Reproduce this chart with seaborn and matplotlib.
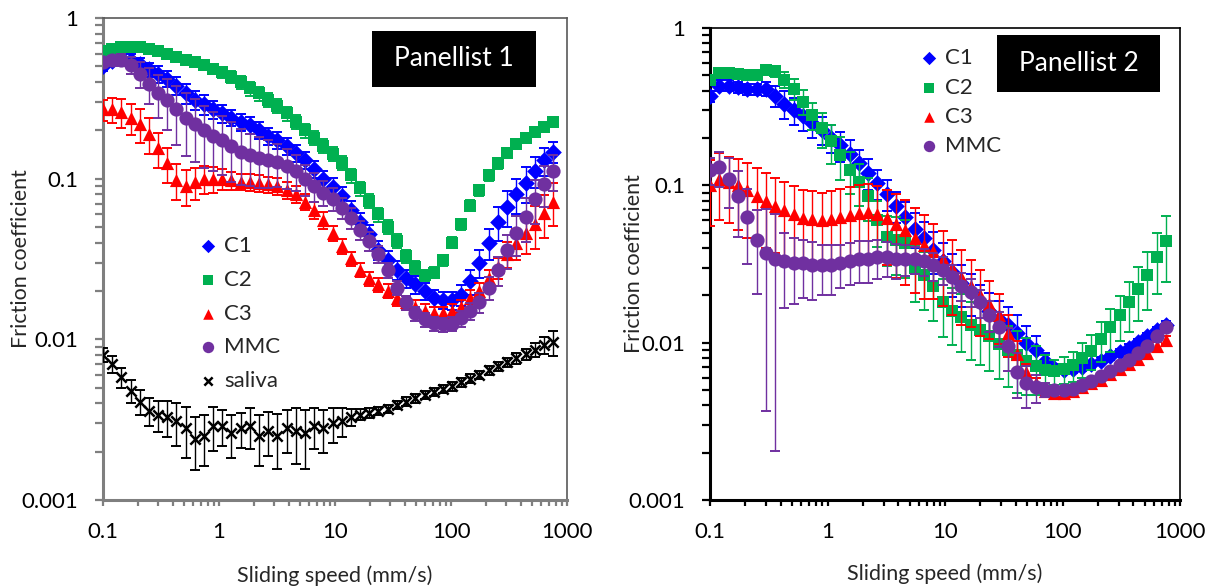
import numpy as np
import pandas as pd
import matplotlib
matplotlib.use('Agg')
import matplotlib.pyplot as plt
import seaborn as sns
from matplotlib.ticker import LogLocator, FuncFormatter, NullFormatter
from matplotlib.patches import Rectangle

# sliding speed (mm/s), shared by every series
speed = [0.10, 0.12, 0.144, 0.173, 0.207, 0.249, 0.299, 0.358, 0.43, 0.516,
         0.619, 0.743, 0.892, 1.07, 1.28, 1.54, 1.85, 2.22, 2.66, 3.19,
         3.83, 4.6, 5.52, 6.62, 7.95, 9.54, 11.4, 13.7, 16.5, 19.8,
         23.7, 28.5, 34.2, 41.0, 49.2, 59.1, 70.9, 85.1, 102, 122,
         147, 176, 212, 254, 305, 366, 439, 527, 632, 759]

# ---- Panellist 1: friction coefficient ----
p1_c1 = [0.50, 0.54, 0.56, 0.55, 0.52, 0.48, 0.45, 0.42, 0.38, 0.34,
         0.31, 0.29, 0.27, 0.255, 0.24, 0.225, 0.215, 0.20, 0.185, 0.175,
         0.16, 0.145, 0.13, 0.115, 0.10, 0.089, 0.078, 0.064, 0.054, 0.045,
         0.036, 0.031, 0.027, 0.024, 0.022, 0.020, 0.018, 0.0175, 0.0175, 0.019,
         0.023, 0.030, 0.040, 0.054, 0.067, 0.080, 0.094, 0.112, 0.130, 0.147]
p1_c2 = [0.62, 0.64, 0.66, 0.66, 0.66, 0.64, 0.62, 0.60, 0.57, 0.55,
         0.53, 0.51, 0.48, 0.46, 0.43, 0.40, 0.365, 0.34, 0.31, 0.285,
         0.255, 0.225, 0.20, 0.18, 0.16, 0.143, 0.125, 0.105, 0.087, 0.073,
         0.060, 0.050, 0.041, 0.033, 0.028, 0.025, 0.026, 0.031, 0.040, 0.052,
         0.068, 0.085, 0.105, 0.125, 0.145, 0.165, 0.180, 0.196, 0.210, 0.225]
p1_c3 = [0.27, 0.27, 0.26, 0.24, 0.22, 0.19, 0.155, 0.125, 0.098, 0.090,
         0.095, 0.10, 0.10, 0.10, 0.098, 0.096, 0.095, 0.094, 0.092, 0.090,
         0.085, 0.080, 0.072, 0.064, 0.055, 0.046, 0.038, 0.032, 0.027, 0.024,
         0.022, 0.020, 0.018, 0.017, 0.016, 0.015, 0.0145, 0.0145, 0.015, 0.016,
         0.018, 0.020, 0.024, 0.028, 0.034, 0.040, 0.046, 0.052, 0.061, 0.072]
p1_mmc = [0.53, 0.55, 0.55, 0.51, 0.45, 0.39, 0.34, 0.31, 0.27, 0.24,
          0.22, 0.20, 0.185, 0.175, 0.16, 0.147, 0.14, 0.135, 0.13, 0.127,
          0.12, 0.112, 0.10, 0.09, 0.082, 0.075, 0.066, 0.057, 0.048, 0.041,
          0.034, 0.027, 0.021, 0.017, 0.0145, 0.0133, 0.0126, 0.0124, 0.0125, 0.0135,
          0.015, 0.017, 0.021, 0.027, 0.036, 0.046, 0.058, 0.075, 0.093, 0.112]
p1_saliva = [0.0080, 0.0070, 0.0058, 0.0048, 0.0041, 0.0036, 0.0034, 0.0033, 0.0031, 0.0028,
             0.0024, 0.0025, 0.0029, 0.0029, 0.0026, 0.0028, 0.0029, 0.0025, 0.0027, 0.0025,
             0.0028, 0.0027, 0.0026, 0.0029, 0.0028, 0.0030, 0.0031, 0.0033, 0.0034, 0.0035,
             0.0036, 0.0037, 0.0039, 0.0041, 0.0043, 0.0045, 0.0047, 0.0049, 0.0051, 0.0054,
             0.0057, 0.0060, 0.0064, 0.0068, 0.0072, 0.0076, 0.0081, 0.0086, 0.0092, 0.0096]

# relative error bars (std / mean)
p1_c1_err = [0.06, 0.06, 0.07, 0.08, 0.09, 0.10, 0.12, 0.12, 0.13, 0.14,
             0.14, 0.14, 0.13, 0.13, 0.12, 0.12, 0.12, 0.12, 0.12, 0.12,
             0.12, 0.12, 0.12, 0.12, 0.12, 0.13, 0.13, 0.13, 0.14, 0.14,
             0.14, 0.14, 0.13, 0.13, 0.13, 0.12, 0.12, 0.12, 0.13, 0.15,
             0.18, 0.20, 0.22, 0.24, 0.25, 0.25, 0.25, 0.22, 0.20, 0.15]
p1_c2_err = [0.04, 0.04, 0.04, 0.04, 0.05, 0.05, 0.05, 0.05, 0.06, 0.06,
             0.06, 0.06, 0.07, 0.08, 0.09, 0.09, 0.10, 0.10, 0.10, 0.10,
             0.10, 0.10, 0.10, 0.10, 0.10, 0.10, 0.10, 0.10, 0.10, 0.10,
             0.10, 0.10, 0.10, 0.09, 0.09, 0.08, 0.08, 0.08, 0.08, 0.08,
             0.08, 0.08, 0.08, 0.08, 0.07, 0.07, 0.06, 0.06, 0.05, 0.05]
p1_c3_err = [0.15, 0.18, 0.20, 0.22, 0.24, 0.25, 0.25, 0.25, 0.25, 0.25,
             0.22, 0.20, 0.18, 0.15, 0.13, 0.12, 0.12, 0.12, 0.12, 0.12,
             0.12, 0.12, 0.12, 0.12, 0.12, 0.11, 0.11, 0.10, 0.10, 0.10,
             0.10, 0.10, 0.10, 0.10, 0.10, 0.10, 0.10, 0.10, 0.10, 0.10,
             0.12, 0.12, 0.13, 0.15, 0.18, 0.22, 0.26, 0.30, 0.30, 0.30]
p1_mmc_err = [0.05, 0.06, 0.08, 0.12, 0.18, 0.25, 0.30, 0.35, 0.40, 0.42,
              0.42, 0.42, 0.40, 0.40, 0.40, 0.38, 0.36, 0.35, 0.33, 0.30,
              0.28, 0.25, 0.22, 0.20, 0.18, 0.16, 0.15, 0.15, 0.14, 0.13,
              0.12, 0.11, 0.10, 0.10, 0.10, 0.10, 0.10, 0.10, 0.10, 0.11,
              0.12, 0.14, 0.16, 0.20, 0.24, 0.28, 0.30, 0.30, 0.28, 0.25]
p1_saliva_err = [0.10, 0.12, 0.14, 0.16, 0.18, 0.20, 0.22, 0.25, 0.30, 0.35,
                 0.36, 0.35, 0.30, 0.25, 0.30, 0.25, 0.28, 0.35, 0.30, 0.38,
                 0.30, 0.38, 0.40, 0.28, 0.30, 0.25, 0.20, 0.12, 0.08, 0.07,
                 0.06, 0.06, 0.06, 0.06, 0.06, 0.06, 0.06, 0.06, 0.06, 0.06,
                 0.06, 0.06, 0.06, 0.07, 0.07, 0.08, 0.08, 0.10, 0.12, 0.18]

# ---- Panellist 2: friction coefficient ----
p2_c1 = [0.37, 0.43, 0.43, 0.42, 0.41, 0.41, 0.41, 0.37, 0.33, 0.30,
         0.275, 0.25, 0.225, 0.20, 0.18, 0.158, 0.138, 0.12, 0.103, 0.088,
         0.074, 0.063, 0.053, 0.046, 0.039, 0.033, 0.028, 0.024, 0.021, 0.018,
         0.016, 0.0142, 0.013, 0.0115, 0.010, 0.009, 0.0077, 0.0069, 0.0067, 0.0068,
         0.0070, 0.0073, 0.0077, 0.0082, 0.0087, 0.0093, 0.0101, 0.011, 0.012, 0.013]
p2_c2 = [0.47, 0.52, 0.52, 0.51, 0.50, 0.50, 0.54, 0.53, 0.47, 0.41,
         0.34, 0.28, 0.23, 0.19, 0.155, 0.125, 0.105, 0.085, 0.060, 0.047,
         0.045, 0.043, 0.030, 0.027, 0.023, 0.018, 0.016, 0.0145, 0.013, 0.012,
         0.011, 0.0098, 0.009, 0.0083, 0.0077, 0.0071, 0.0067, 0.0066, 0.0068, 0.0072,
         0.0080, 0.0089, 0.0105, 0.0125, 0.015, 0.018, 0.022, 0.027, 0.035, 0.044]
p2_c3 = [0.10, 0.11, 0.105, 0.10, 0.093, 0.086, 0.080, 0.074, 0.070, 0.066,
         0.062, 0.061, 0.060, 0.061, 0.063, 0.065, 0.067, 0.068, 0.066, 0.062,
         0.057, 0.052, 0.046, 0.042, 0.038, 0.034, 0.030, 0.026, 0.023, 0.020,
         0.0175, 0.015, 0.0115, 0.0085, 0.0065, 0.0055, 0.0049, 0.0048, 0.0048, 0.0049,
         0.0052, 0.0055, 0.0058, 0.0063, 0.0068, 0.0073, 0.0079, 0.0086, 0.0095, 0.0104]
p2_mmc = [0.125, 0.13, 0.11, 0.085, 0.063, 0.045, 0.037, 0.034, 0.033, 0.032,
          0.032, 0.031, 0.031, 0.031, 0.032, 0.033, 0.034, 0.034, 0.035, 0.035,
          0.034, 0.034, 0.034, 0.033, 0.031, 0.029, 0.026, 0.023, 0.021, 0.018,
          0.015, 0.0125, 0.0095, 0.0065, 0.0055, 0.0052, 0.0050, 0.0050, 0.0050, 0.0051,
          0.0054, 0.0057, 0.0061, 0.0066, 0.0072, 0.0078, 0.0086, 0.0095, 0.011, 0.0125]

p2_c1_err = [0.08, 0.08, 0.08, 0.08, 0.08, 0.08, 0.10, 0.15, 0.20, 0.20,
             0.20, 0.20, 0.20, 0.20, 0.22, 0.22, 0.22, 0.22, 0.22, 0.22,
             0.22, 0.25, 0.25, 0.28, 0.30, 0.30, 0.30, 0.30, 0.30, 0.30,
             0.30, 0.30, 0.30, 0.30, 0.28, 0.22, 0.12, 0.06, 0.05, 0.05,
             0.05, 0.05, 0.05, 0.05, 0.05, 0.05, 0.05, 0.05, 0.05, 0.05]
p2_c2_err = [0.06, 0.06, 0.06, 0.06, 0.06, 0.06, 0.06, 0.08, 0.12, 0.15,
             0.18, 0.20, 0.25, 0.28, 0.30, 0.30, 0.30, 0.30, 0.32, 0.35,
             0.40, 0.40, 0.40, 0.40, 0.40, 0.40, 0.40, 0.40, 0.40, 0.40,
             0.40, 0.40, 0.42, 0.42, 0.40, 0.35, 0.25, 0.18, 0.20, 0.22,
             0.25, 0.25, 0.28, 0.30, 0.32, 0.35, 0.38, 0.40, 0.42, 0.45]
p2_c3_err = [0.45, 0.45, 0.45, 0.48, 0.50, 0.50, 0.50, 0.50, 0.50, 0.50,
             0.50, 0.50, 0.50, 0.50, 0.50, 0.50, 0.50, 0.50, 0.50, 0.50,
             0.55, 0.55, 0.55, 0.55, 0.50, 0.50, 0.50, 0.50, 0.45, 0.45,
             0.40, 0.35, 0.30, 0.20, 0.12, 0.08, 0.06, 0.06, 0.06, 0.06,
             0.06, 0.06, 0.06, 0.06, 0.06, 0.06, 0.06, 0.06, 0.06, 0.06]
p2_mmc_err = [0.20, 0.25, 0.35, 0.45, 0.50, 0.55, 0.90, 0.94, 0.50, 0.45,
              0.40, 0.40, 0.35, 0.35, 0.30, 0.30, 0.30, 0.30, 0.28, 0.25,
              0.25, 0.22, 0.20, 0.20, 0.20, 0.20, 0.20, 0.20, 0.20, 0.20,
              0.22, 0.25, 0.30, 0.32, 0.30, 0.20, 0.10, 0.06, 0.05, 0.05,
              0.05, 0.05, 0.05, 0.05, 0.05, 0.05, 0.05, 0.05, 0.05, 0.05]

rows = []
series = [
    ('Panellist 1', 'C1', p1_c1, p1_c1_err),
    ('Panellist 1', 'C2', p1_c2, p1_c2_err),
    ('Panellist 1', 'C3', p1_c3, p1_c3_err),
    ('Panellist 1', 'MMC', p1_mmc, p1_mmc_err),
    ('Panellist 1', 'saliva', p1_saliva, p1_saliva_err),
    ('Panellist 2', 'C1', p2_c1, p2_c1_err),
    ('Panellist 2', 'C2', p2_c2, p2_c2_err),
    ('Panellist 2', 'C3', p2_c3, p2_c3_err),
    ('Panellist 2', 'MMC', p2_mmc, p2_mmc_err),
]
for panel, sample, mu, rel in series:
    for s, m, r in zip(speed, mu, rel):
        rows.append({'panel': panel, 'sample': sample, 'speed': s,
                     'friction': m, 'err': m * r})
df = pd.DataFrame(rows)

sns.set_style('ticks')
plt.rcParams['font.family'] = ['Lato', 'DejaVu Sans']

colors = {'C1': '#0000FF', 'C2': '#00B050', 'C3': '#FF0000',
          'MMC': '#7030A0', 'saliva': '#000000'}
markers = {'C1': 'D', 'C2': 's', 'C3': '^', 'MMC': 'o', 'saliva': 'x'}
sizes = {'C1': 72, 'C2': 72, 'C3': 90, 'MMC': 105, 'saliva': 55}

fig = plt.figure(figsize=(12.09, 5.88), dpi=100)
ax1 = fig.add_axes([0.0852, 0.1497, 0.3838, 0.8197])
ax2 = fig.add_axes([0.5873, 0.1497, 0.3888, 0.8027])

setup = {
    'Panellist 1': dict(ax=ax1, spine='#7F7F7F', frame='#595959',
                        box=(0.580, 0.857, 0.353, 0.116),
                        leg=(0.165, 0.58), lspace=0.62, ylab=-0.155),
    'Panellist 2': dict(ax=ax2, spine='#000000', frame='#000000',
                        box=(0.611, 0.864, 0.346, 0.121),
                        leg=(0.405, 0.99), lspace=0.42, ylab=-0.14),
}

for panel, cfg in setup.items():
    ax = cfg['ax']
    sub = df[df['panel'] == panel]
    for i, (sample, grp) in enumerate(sub.groupby('sample', sort=False)):
        ax.errorbar(grp['speed'], grp['friction'], yerr=grp['err'], fmt='none',
                    ecolor=colors[sample], elinewidth=1.0, capsize=3.6,
                    capthick=1.4, zorder=2 + 2 * i)
        kw = dict(linewidth=1.8) if sample == 'saliva' else dict(linewidth=0)
        sns.scatterplot(data=grp, x='speed', y='friction', ax=ax,
                        marker=markers[sample], color=colors[sample],
                        s=sizes[sample], label=sample, zorder=3 + 2 * i, **kw)

    ax.set_xscale('log')
    ax.set_yscale('log')
    ax.set_xlim(0.1, 1000)
    ax.set_ylim(0.001, 1)
    fmt = FuncFormatter(lambda v, p: f'{v:g}')
    ax.xaxis.set_major_formatter(fmt)
    ax.yaxis.set_major_formatter(fmt)
    for axis in (ax.xaxis, ax.yaxis):
        axis.set_minor_locator(LogLocator(base=10, subs=range(2, 10)))
        axis.set_minor_formatter(NullFormatter())
    ax.tick_params(axis='both', which='both', direction='out',
                   color=cfg['spine'], labelsize=16, labelcolor='black')
    ax.tick_params(axis='y', which='both', length=6, width=1.6, pad=12)
    ax.tick_params(axis='x', which='both', length=4, width=1.6, pad=12)

    for side in ('left', 'bottom'):
        ax.spines[side].set_color(cfg['spine'])
        ax.spines[side].set_linewidth(2.2)
    for side in ('top', 'right'):
        ax.spines[side].set_visible(True)
        ax.spines[side].set_color(cfg['frame'])
        ax.spines[side].set_linewidth(1.2)

    ax.set_xlabel('Sliding speed (mm/s)', fontsize=15.5)
    ax.set_ylabel('Friction coefficient', fontsize=15.5)
    ax.xaxis.set_label_coords(0.5, -0.135)
    ax.yaxis.set_label_coords(cfg['ylab'], 0.5)

    bx, by, bw, bh = cfg['box']
    ax.add_patch(Rectangle((bx, by), bw, bh, transform=ax.transAxes,
                           facecolor='black', edgecolor='none', zorder=20))
    ax.text(bx + bw / 2, by + bh / 2, panel, transform=ax.transAxes,
            color='white', fontsize=19, ha='center', va='center', zorder=21)

    ax.legend(loc='upper left', bbox_to_anchor=cfg['leg'], frameon=False,
              fontsize=16, handletextpad=0.1, handlelength=1.2, markerscale=0.8,
              labelspacing=cfg['lspace'], borderpad=0.2)

fig.savefig('out.png', dpi=100)
